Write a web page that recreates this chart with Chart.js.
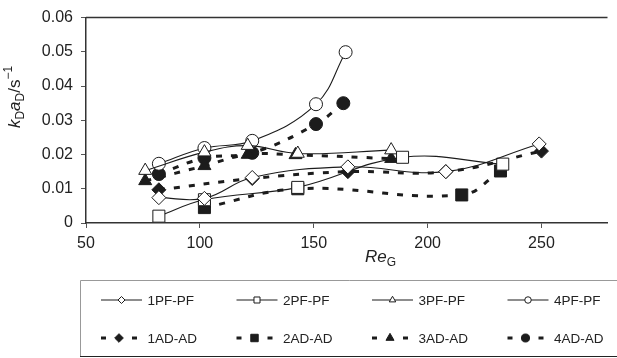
<!DOCTYPE html>
<html>
<head>
<meta charset="utf-8">
<script src="https://cdn.jsdelivr.net/npm/chart.js@4.4.0/dist/chart.umd.min.js"></script>
<style>
  html, body { margin: 0; padding: 0; background: #fff; }
</style>
</head>
<body>
<canvas id="klaChart" width="617" height="358"></canvas>
<script>
// Re_G values and kDaD (1/s) for each configuration
const re1PF = [82, 102, 123, 165, 208, 249];
const kd1PF = [0.0074, 0.0072, 0.0133, 0.0164, 0.0150, 0.0231];
const re2PF = [82, 102, 143, 189, 233];
const kd2PF = [0.0020, 0.0068, 0.0104, 0.0192, 0.0172];
const re3PF = [76, 102, 121, 143, 184];
const kd3PF = [0.0153, 0.0207, 0.0226, 0.0203, 0.0213];
const re4PF = [82, 102, 123, 151, 164];
const kd4PF = [0.0173, 0.0219, 0.0240, 0.0347, 0.0499];

const re1AD = [82, 123, 165, 208, 250];
const kd1AD = [0.0097, 0.0130, 0.0150, 0.0150, 0.0210];
const re2AD = [102, 143, 215, 232];
const kd2AD = [0.0045, 0.0100, 0.0082, 0.0152];
const re3AD = [76, 102, 121, 142, 184];
const kd3AD = [0.0123, 0.0167, 0.0200, 0.0199, 0.0188];
const re4AD = [82, 102, 123, 151, 163];
const kd4AD = [0.0143, 0.0190, 0.0205, 0.0289, 0.0350];

const yTicks = [0, 0.01, 0.02, 0.03, 0.04, 0.05, 0.06];

const INK = '#1c1c1c';
const radius = { rectRot: 7, rect: 8.5, triangle: 7.5, circle: 6.5 };

function series(label, xs, ys, style, open) {
  return {
    label,
    data: xs.map((x, i) => ({ x, y: ys[i] })),
    borderColor: INK,
    borderWidth: open ? 1.1 : 3,
    borderDash: open ? [] : [6, 9],
    tension: 0.4,
    fill: false,
    pointStyle: style,
    pointRadius: radius[style],
    pointHoverRadius: radius[style],
    pointBackgroundColor: open ? '#fff' : INK,
    pointBorderColor: INK,
    pointBorderWidth: 1,
    _open: open
  };
}

Chart.defaults.font.family = "'Liberation Sans', Arial, sans-serif";
Chart.defaults.color = '#222';

// frame top line, axis titles with sub/superscripts, and the boxed legend
const extras = {
  id: 'extras',
  afterDraw(chart) {
    const ctx = chart.ctx;
    const a = chart.chartArea;
    ctx.save();
    ctx.strokeStyle = '#333';
    ctx.lineWidth = 1.5;
    ctx.beginPath();
    ctx.moveTo(a.left, a.top);
    ctx.lineTo(a.right, a.top);
    ctx.stroke();

    const fam = "'Liberation Sans', Arial, sans-serif";
    function rich(parts, x, y, center) {
      let w = 0;
      parts.forEach(p => { ctx.font = p.f + fam; w += ctx.measureText(p.t).width; });
      let cx = center ? x - w / 2 : x;
      parts.forEach(p => {
        ctx.font = p.f + fam;
        ctx.fillText(p.t, cx, y + (p.dy || 0));
        cx += ctx.measureText(p.t).width;
      });
    }
    ctx.fillStyle = '#222';
    ctx.textBaseline = 'alphabetic';
    ctx.textAlign = 'left';

    // y title
    ctx.save();
    ctx.translate(20, 97);
    ctx.rotate(-Math.PI / 2);
    rich([
      { t: 'k', f: 'italic 17px ' },
      { t: 'D', f: '12px ', dy: 4 },
      { t: 'a', f: 'italic 17px ' },
      { t: 'D', f: '12px ', dy: 4 },
      { t: '/s', f: '17px ' },
      { t: '\u22121', f: '12px ', dy: -8 }
    ], 0, 0, true);
    ctx.restore();

    // x title
    rich([
      { t: 'Re', f: 'italic 17px ' },
      { t: 'G', f: '12px ', dy: 4 }
    ], 365, 262, false);

    // legend box
    ctx.lineWidth = 1;
    ctx.strokeStyle = '#999';
    ctx.beginPath();
    ctx.moveTo(80.5, 356); ctx.lineTo(80.5, 280.5); ctx.lineTo(620, 280.5);
    ctx.stroke();
    ctx.strokeStyle = '#222';
    ctx.beginPath();
    ctx.moveTo(80, 356.5); ctx.lineTo(620, 356.5);
    ctx.stroke();

    chart.data.datasets.forEach((ds, i) => {
      const col = i % 4, row = Math.floor(i / 4);
      const x0 = 101 + col * 135.5, y = 300 + row * 38;
      ctx.strokeStyle = INK;
      if (ds._open) {
        ctx.lineWidth = 1.1;
        ctx.setLineDash([]);
        ctx.beginPath(); ctx.moveTo(x0, y); ctx.lineTo(x0 + 41, y); ctx.stroke();
      } else {
        ctx.lineWidth = 3;
        ctx.beginPath();
        ctx.moveTo(x0, y); ctx.lineTo(x0 + 5, y);
        ctx.moveTo(x0 + 31, y); ctx.lineTo(x0 + 36, y);
        ctx.stroke();
      }
      ctx.fillStyle = ds._open ? '#fff' : INK;
      ctx.lineWidth = 1;
      Chart.helpers.drawPoint(ctx, {
        pointStyle: ds.pointStyle,
        radius: ds.pointRadius * (ds._open ? 0.5 : 0.62),
        borderWidth: 1,
        rotation: 0
      }, x0 + (ds._open ? 20.5 : 18), y);
      ctx.fillStyle = '#222';
      ctx.font = '13.5px ' + fam;
      ctx.textBaseline = 'middle';
      ctx.fillText(ds.label, x0 + 46.5, y + 1);
    });
    ctx.restore();
  }
};

new Chart(document.getElementById('klaChart'), {
  type: 'line',
  data: {
    datasets: [
      series('1PF-PF', re1PF, kd1PF, 'rectRot', true),
      series('2PF-PF', re2PF, kd2PF, 'rect', true),
      series('3PF-PF', re3PF, kd3PF, 'triangle', true),
      series('4PF-PF', re4PF, kd4PF, 'circle', true),
      series('1AD-AD', re1AD, kd1AD, 'rectRot', false),
      series('2AD-AD', re2AD, kd2AD, 'rect', false),
      series('3AD-AD', re3AD, kd3AD, 'triangle', false),
      series('4AD-AD', re4AD, kd4AD, 'circle', false)
    ]
  },
  options: {
    responsive: false,
    animation: false,
    layout: { padding: { left: 0, right: 0, top: 14, bottom: 105 } },
    plugins: { legend: { display: false }, tooltip: { enabled: false } },
    scales: {
      x: {
        type: 'linear',
        min: 50,
        max: 279,
        afterFit: s => { s.height = 30; },
        border: { color: '#333', width: 1.5 },
        grid: { drawOnChartArea: false, drawTicks: true, tickLength: 5, color: '#555' },
        ticks: { stepSize: 50, includeBounds: false, padding: 6, maxRotation: 0, font: { size: 16 } }
      },
      y: {
        min: 0,
        max: 0.06,
        afterFit: s => { s.width = 86; },
        afterBuildTicks: s => { s.ticks = yTicks.map(v => ({ value: v })); },
        border: { color: '#333', width: 1.5 },
        grid: { drawOnChartArea: false, drawTicks: true, tickLength: 5, color: '#555' },
        ticks: {
          padding: 8,
          font: { size: 16 },
          callback: v => v === 0 ? '0' : v.toFixed(2)
        }
      }
    }
  },
  plugins: [extras]
});
</script>
</body>
</html>
